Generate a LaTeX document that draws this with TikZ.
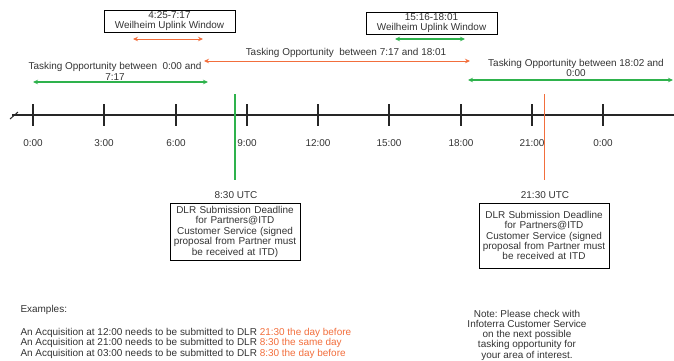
\documentclass[tikz,border=0pt]{standalone}
\usepackage{fontspec}
\setmainfont{Liberation Sans}
\usepackage{xcolor}
\usetikzlibrary{arrows.meta}
\usetikzlibrary{shapes}

\definecolor{oppgreen}{RGB}{46,178,76}
\definecolor{opporange}{RGB}{242,110,60}

\tikzset{
	window/.style={draw, line width=0.8pt, align=center, inner sep=1pt, minimum width=131bp, minimum height=22bp},
	deadline/.style={draw, line width=0.8pt, align=center, inner sep=2pt, text width=126bp},
	span/.style={{Stealth[length=5pt, width=4.5pt]}-{Stealth[length=5pt, width=4.5pt]}}
}

\begin{document}
\frenchspacing
\begin{tikzpicture}[x=1bp, y=-1bp, font=\fontsize{10}{10.5}\selectfont, text=black!80]

	\useasboundingbox (0,0) rectangle (674,360);

	%time axis with break mark
	\draw[line width=1.1pt, color=black!85] (12,115) -- (674,115);
	\draw[line width=1pt, color=black!85] (10,119) -- (18,112);

	% ticks and hours
	\foreach \x/\t in {33/0:00, 104/3:00, 176/6:00, 247/9:00, 318/12:00, 389/15:00, 461/18:00, 532/21:00, 603/0:00} {
		\draw[line width=1.4pt, color=black!85] (\x, 104) -- +(0,22);
		\node (h\x) at (\x, 143) {\t};
	}

	% deadlines
	\coordinate (da) at (235,94);
	\coordinate (db) at (544,94);
	\node (ua) at (236,195) {8:30 UTC};
	\node (ub) at (545,195) {21:30 UTC};
	\draw[color=oppgreen, line width=1.3pt] (da) -- (da |- 0,180);
	\draw[color=opporange, line width=0.9pt] (db) -- (db |- 0,180);

	\node[deadline, minimum height=57bp] (a) at (235,231.5) {DLR Submission Deadline\\for Partners@ITD\\Customer Service (signed\\proposal from Partner must\\be received at ITD)};
	\node[deadline, minimum height=65bp] (b) at (544,235.5) {DLR Submission Deadline\\for Partners@ITD\\Customer Service (signed\\proposal from Partner must\\be received at ITD};

	% uplink windows
	\node[window] (wa) at (169.5,21) {4:25-7:17\\Weilheim Uplink Window};
	\node[window] (wb) at (431.5,23) {15:16-18:01\\Weilheim Uplink Window};
	\draw[span, color=opporange, line width=0.9pt] (133,39) -- (203,39);
	\draw[span, color=oppgreen, line width=1.6pt] (395,39) -- (465,39);

	% tasking opportunities
	\node[align=center] (ta) at (115,71.5) {Tasking Opportunity between \ 0:00 and\\7:17};
	\node (tb) at (346,53) {Tasking Opportunity \ between 7:17 and 18:01};
	\node[align=center] (tc) at (576,68) {Tasking Opportunity between 18:02 and\\0:00};
	\draw[span, color=oppgreen, line width=1.3pt] (33,82) -- (208,82);
	\draw[span, color=opporange, line width=0.9pt] (204,61) -- (470,61);
	\draw[span, color=oppgreen, line width=1.3pt] (468,80) -- (673,80);

	% Text nodes
	\node[anchor=west] (ex) at (17,310) {Examples:};
	\node[anchor=west] (e1) at (17,333) {An Acquisition at 12:00 needs to be submitted to DLR \textcolor{opporange}{21:30 the day before}};
	\node[anchor=west] (e2) at (17,342.5) {An Acquisition at 21:00 needs to be submitted to DLR \textcolor{opporange}{8:30 the same day}};
	\node[anchor=west] (e3) at (17,354) {An Acquisition at 03:00 needs to be submitted to DLR \textcolor{opporange}{8:30 the day before}};
	\node[align=center, font=\fontsize{10}{10.3}\selectfont] (n) at (527,335) {Note: Please check with\\Infoterra Customer Service\\on the next possible\\tasking opportunity for\\your area of interest.};
\end{tikzpicture}
\end{document}
